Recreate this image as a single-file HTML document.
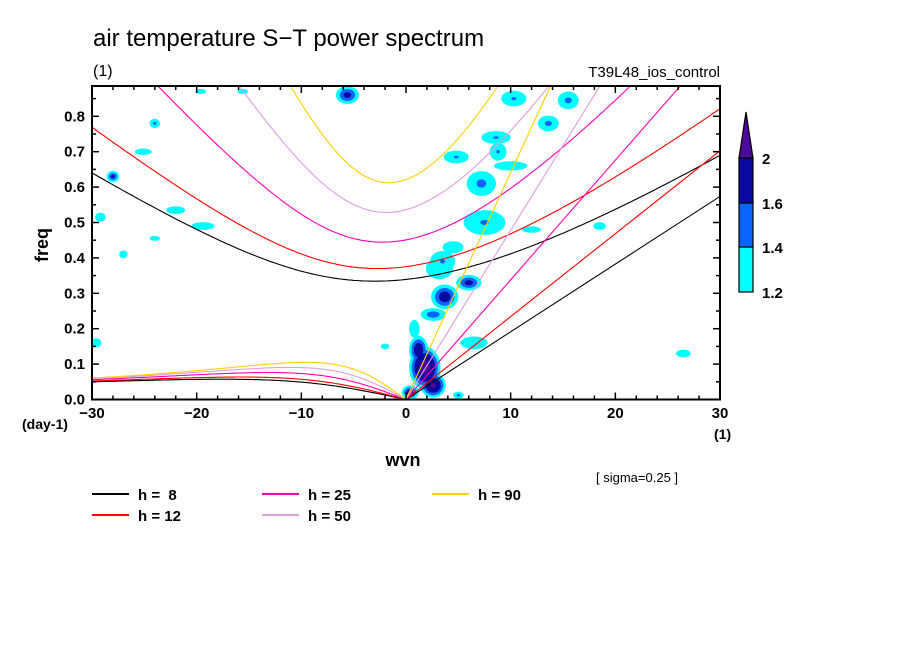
<!DOCTYPE html>
<html><head><meta charset="utf-8">
<style>
html,body{margin:0;padding:0;background:#fff;}
svg{display:block;font-family:"Liberation Sans",sans-serif;}
</style></head>
<body>
<svg id="chart" width="904" height="654" viewBox="0 0 904 654">
<text x="93" y="46" font-size="24">air temperature S−T power spectrum</text>
<text x="93" y="76" font-size="16">(1)</text>
<text x="720" y="77" font-size="15" text-anchor="end">T39L48_ios_control</text>
<defs><clipPath id="plotclip"><rect x="92" y="86" width="628" height="313.5"/></clipPath></defs>
<g id="blobs" clip-path="url(#plotclip)"></g>
<g id="curves" clip-path="url(#plotclip)"></g>
<g id="axes"></g>
<text x="0" y="0" font-size="18" font-weight="bold" transform="translate(48,262) rotate(-90)">freq</text>
<text x="403" y="466" font-size="18" font-weight="bold" text-anchor="middle">wvn</text>
<text x="22" y="429" font-size="14" font-weight="bold">(day-1)</text>
<text x="714" y="439" font-size="14" font-weight="bold">(1)</text>
<text x="596" y="482" font-size="13">[ sigma=0.25 ]</text>
<g id="legend"></g>
<g id="colorbar"></g>
</svg>
<script>
const depths=[8,12,25,50,90];
const depthColors=["#000000","#ff0000","#ff00b4","#dda0dd","#ffd000"];
const levels=[1.2,1.4,1.6,2.0];
const levelColors=["#00ffff","#0a64ff","#0a0aa0","#4b0a9b"];
const xTicks=[-30,-20,-10,0,10,20,30];
const yTicks=[0,0.1,0.2,0.3,0.4,0.5,0.6,0.7,0.8];
// blobs: wavenumber, freq, half-width(k), half-height(f), peak value
const blobK=[1.8,2.6,0.4,1.2,3.7,6,2.6,7.5,7.2,4.8,8.6,13.6,10.3,15.5,-5.6,10,8.8,3.5,4.5,18.5,26.5,-28,-24,-29.2,-27,-25.1,-22,-19.4,-29.6,-24,-19.6,-15.6,6.5,12,0.8,5,-2,3.2];
const blobF=[0.09,0.04,0.02,0.14,0.29,0.33,0.24,0.5,0.61,0.685,0.74,0.78,0.85,0.845,0.86,0.66,0.7,0.39,0.43,0.49,0.13,0.63,0.78,0.515,0.41,0.70,0.535,0.49,0.16,0.455,0.87,0.87,0.16,0.48,0.2,0.012,0.15,0.37];
const blobWK=[1.5,1.2,0.8,0.9,1.3,1.2,1.2,2.0,1.4,1.2,1.4,1.0,1.2,1.0,1.1,1.6,0.8,1.2,1.0,0.6,0.7,0.6,0.5,0.5,0.4,0.8,0.9,1.1,0.5,0.5,0.5,0.5,1.3,0.9,0.5,0.5,0.4,1.3];
const blobWF=[0.06,0.035,0.02,0.04,0.035,0.022,0.018,0.035,0.035,0.018,0.018,0.022,0.022,0.025,0.025,0.013,0.025,0.03,0.017,0.011,0.011,0.016,0.013,0.013,0.011,0.009,0.011,0.011,0.013,0.007,0.007,0.007,0.018,0.009,0.025,0.01,0.008,0.03];
const blobV=[2.4,2.2,1.9,2.0,1.9,1.8,1.6,1.45,1.5,1.45,1.45,1.5,1.45,1.5,1.8,1.4,1.45,1.45,1.35,1.3,1.3,1.75,1.5,1.3,1.4,1.3,1.3,1.35,1.3,1.25,1.25,1.25,1.4,1.3,1.4,1.5,1.3,1.4];
const NS="http://www.w3.org/2000/svg";
const X0=92,X1=720,Y0=399.5,PXF=354;
const xs=k=>X0+(k+30)*(X1-X0)/60;
const ys=f=>Y0-f*PXF;
function mk(tag,attrs,parent){const e=document.createElementNS(NS,tag);for(const a in attrs)e.setAttribute(a,attrs[a]);parent.appendChild(e);return e;}
const gB=document.getElementById('blobs');
for(let li=0;li<levels.length;li++){
  for(let i=0;i<blobK.length;i++){
    const pk=blobV[i];if(pk<=levels[li])continue;
    const s=(pk-levels[li])/(pk-1.2);
    const e=mk('ellipse',{cx:xs(blobK[i]),cy:ys(blobF[i]),rx:blobWK[i]*s*(X1-X0)/60,ry:blobWF[i]*s*PXF,fill:levelColors[li]},gB);
    
    
  }
}
const a=6.371e6,beta=2*7.292e-5/a,g=9.81,cpd=86400/(2*Math.PI);
function roots(ks){const p=-(ks*ks+3),q=-ks;const m=2*Math.sqrt(-p/3);
  let arg=(3*q/(2*p))*Math.sqrt(-3/p);arg=Math.max(-1,Math.min(1,arg));const th=Math.acos(arg)/3;
  return [0,1,2].map(j=>m*Math.cos(th-2*Math.PI*j/3));}
const gC=document.getElementById('curves');
depths.forEach((h,i)=>{
  const c=Math.sqrt(g*h),kf=Math.sqrt(c/beta)/a,wf=Math.sqrt(c*beta)*cpd;
  let ig=[],ro=[];
  for(let k=-30;k<=30.001;k+=0.25){const r=roots(k*kf);ig.push([k,Math.max(...r)*wf]);}
  for(let k=-30;k<=0.001;k+=0.25){const r=roots(k*kf).filter(v=>v>=-1e-9);const w=r.length?Math.min(...r):0;ro.push([k,Math.max(0,w)*wf]);}
  const kel=[[0,0],[30,30*kf*wf]];
  [ig,ro,kel].forEach((pts,j)=>{
    const d=pts.map((p,n)=>(n?'L':'M')+xs(p[0]).toFixed(1)+','+ys(p[1]).toFixed(1)).join('');
    const e=mk('path',{d:d,fill:'none',stroke:depthColors[i],'stroke-width':1.1},gC);
    
    
  });
});
const gA=document.getElementById('axes');
mk('rect',{x:X0,y:86,width:X1-X0,height:Y0-86,fill:'none',stroke:'#000','stroke-width':2},gA);
for(let k=-30;k<=30;k+=2){const maj=k%10===0,L=maj?7:4;
  mk('line',{x1:xs(k),x2:xs(k),y1:Y0,y2:Y0-L,stroke:'#000','stroke-width':1.5},gA);
  mk('line',{x1:xs(k),x2:xs(k),y1:86,y2:86+L,stroke:'#000','stroke-width':1.5},gA);}
for(let f=0;f<=0.88;f+=0.05){const maj=Math.round(f*100)%10===0,L=maj?7:4;
  mk('line',{x1:X0,x2:X0+L,y1:ys(f),y2:ys(f),stroke:'#000','stroke-width':1.5},gA);
  mk('line',{x1:X1,x2:X1-L,y1:ys(f),y2:ys(f),stroke:'#000','stroke-width':1.5},gA);}
xTicks.forEach(k=>{const t=mk('text',{x:xs(k),y:418,'font-size':15,'font-weight':'bold','text-anchor':'middle'},gA);t.textContent=(k<0?'−':'')+Math.abs(k);
  });
yTicks.forEach(f=>{const t=mk('text',{x:85,y:ys(f)+5,'font-size':15,'font-weight':'bold','text-anchor':'end'},gA);t.textContent=f.toFixed(1);
  });
const gL=document.getElementById('legend');
const lx=[92,92,262,262,432],ly=[494,515,494,515,494],lt=['h =  8','h = 12','h = 25','h = 50','h = 90'];
depths.forEach((h,i)=>{
  const l=mk('line',{x1:lx[i],x2:lx[i]+37,y1:ly[i],y2:ly[i],stroke:depthColors[i],'stroke-width':2},gL);
  
  const t=mk('text',{x:lx[i]+46,y:ly[i]+6,'font-size':15,'font-weight':'bold'},gL);t.textContent=lt[i];
  t.style.whiteSpace='pre';
  
});
const gK=document.getElementById('colorbar');
const cbY=[292,247,203,158];
for(let i=0;i<3;i++){const r=mk('rect',{x:739,y:cbY[i+1],width:14,height:cbY[i]-cbY[i+1],fill:levelColors[i],stroke:'#000','stroke-width':1.2},gK);
  }
const tri=mk('polygon',{points:'739,158 753,158 746,112',fill:levelColors[3],stroke:'#000','stroke-width':1.2},gK);

levels.forEach((v,i)=>{const t=mk('text',{x:762,y:[298,253,209,164][i],'font-size':15,'font-weight':'bold'},gK);t.textContent=String(v);
  });
</script>
</body></html>
